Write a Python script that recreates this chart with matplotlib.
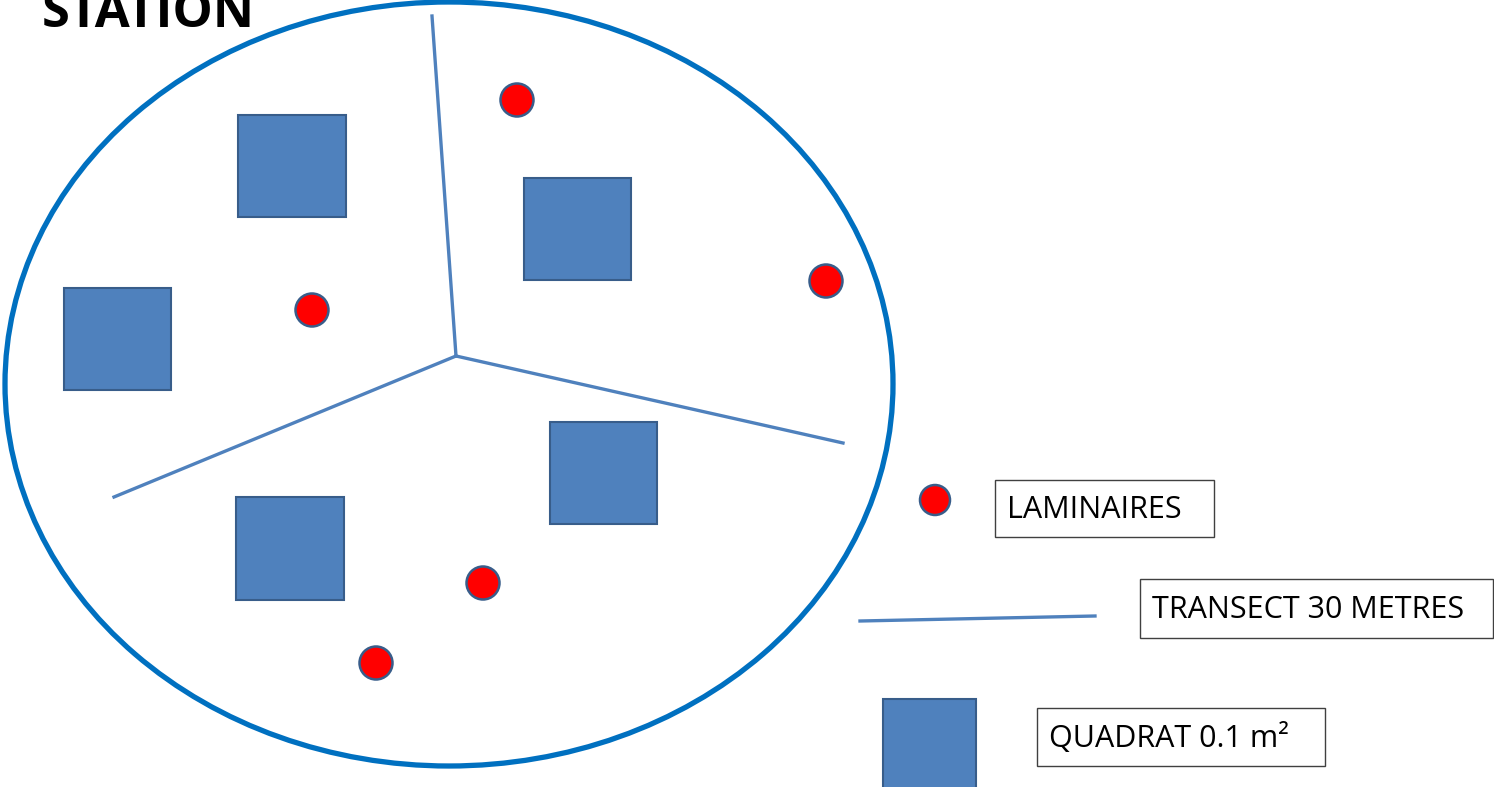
import matplotlib.pyplot as plt
from matplotlib.patches import Ellipse, Rectangle

# station outline (pixel space, y pointing down)
station_center = (449, 384)
station_size = (888, 764)

# transects: start at a shared hub, go to three ends
hub = (456, 356)
transect_ends = [(432, 16), (843, 443), (114, 497)]

# quadrats: left, top, width, height
quadrats = [
    (238, 115, 108, 102),
    (524, 178, 107, 102),
    (64, 288, 107, 102),
    (550, 422, 107, 102),
    (236, 497, 108, 103),
]

# laminaires: centre x, centre y
laminaires = [(517, 100), (826, 281), (312, 310), (483, 583), (376, 663)]

legend_labels = ["LAMINAIRES", "TRANSECT 30 METRES", "QUADRAT 0.1 m²"]
legend_boxes = [(995, 480, 219, 57), (1140, 579, 353, 59), (1037, 708, 288, 58)]

quad_fill = "#4F81BD"
quad_edge = "#385D8A"

fig = plt.figure(figsize=(14.94, 7.87), dpi=100)
ax = fig.add_axes([0, 0, 1, 1])
ax.set_xlim(0, 1494)
ax.set_ylim(787, 0)
ax.axis("off")

ax.add_patch(Ellipse(station_center, *station_size, fill=False,
                     edgecolor="#0070C0", linewidth=3.8))

for end in transect_ends:
    ax.plot([hub[0], end[0]], [hub[1], end[1]], color=quad_fill, linewidth=2.4)

for x, y, w, h in quadrats:
    ax.add_patch(Rectangle((x, y), w, h, facecolor=quad_fill,
                           edgecolor=quad_edge, linewidth=1.5))

for cx, cy in laminaires:
    ax.add_patch(Ellipse((cx, cy), 33, 33, facecolor="#FF0000",
                         edgecolor=quad_edge, linewidth=1.8))

# legend symbols
ax.add_patch(Ellipse((935, 500), 30, 30, facecolor="#FF0000",
                     edgecolor=quad_edge, linewidth=1.8))
ax.plot([860, 1095], [621, 616], color=quad_fill, linewidth=2.4)
ax.add_patch(Rectangle((883, 699), 93, 100, facecolor=quad_fill,
                       edgecolor=quad_edge, linewidth=1.5, clip_on=True))

for label, (x, y, w, h) in zip(legend_labels, legend_boxes):
    ax.add_patch(Rectangle((x, y), w, h, fill=False, edgecolor="#404040",
                           linewidth=1.0))
    ax.text(x + 12, y + h / 2 + 1, label, fontsize=22, family="Open Sans",
            va="center", ha="left", color="black")

# title sits partly above the top edge, as in the original
ax.text(42, 27, "STATION", fontsize=36.5, fontweight="bold", family="Open Sans",
        va="baseline", ha="left", color="black")

fig.savefig("out.png", dpi=100)
